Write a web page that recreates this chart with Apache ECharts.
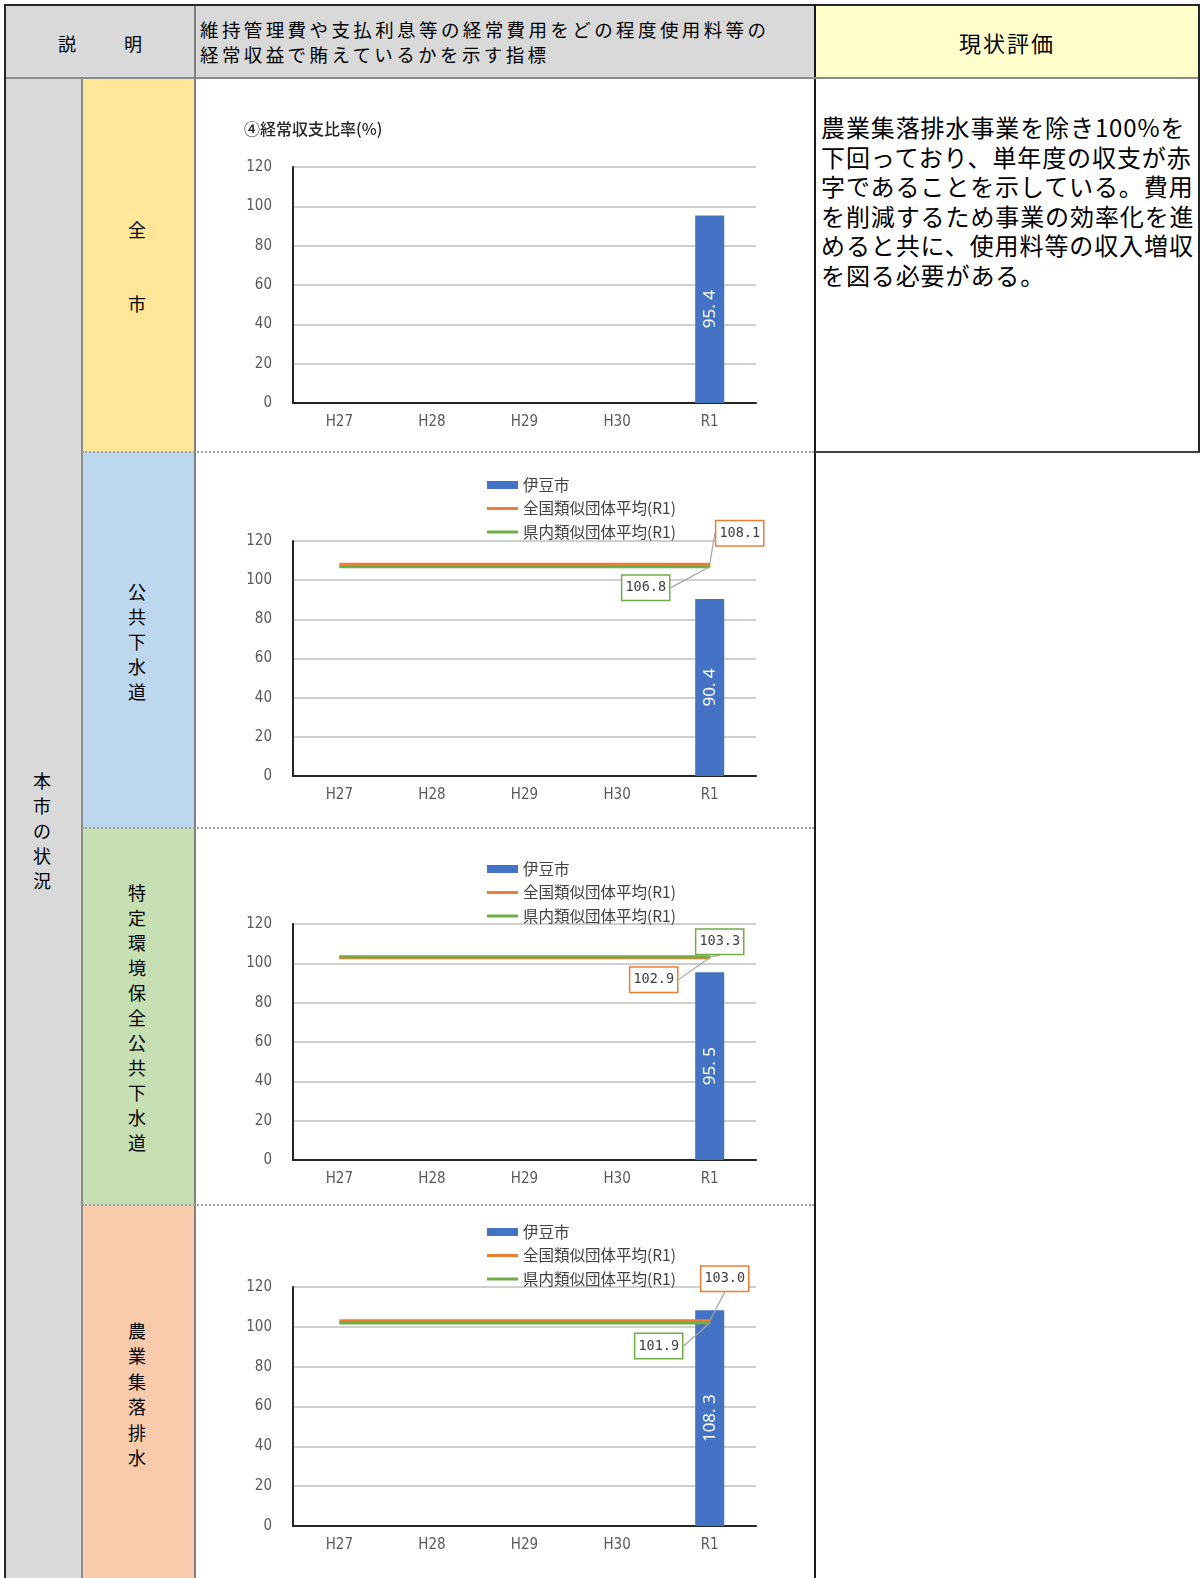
<!DOCTYPE html>
<html lang="ja">
<head>
<meta charset="utf-8">
<title>経常収支比率</title>
<script src="https://cdn.jsdelivr.net/npm/echarts@6/dist/echarts.min.js"></script>
<style>
  html, body { margin: 0; padding: 0; background: #fff; }
  body { width: 1202px; height: 1578px; position: relative; overflow: hidden;
         font-family: "Noto Sans CJK JP", "Noto Sans", sans-serif; color: #000; }
  .box { position: absolute; box-sizing: border-box; }
  .line { position: absolute; z-index: 5; }
  .chart { position: absolute; left: 195px; width: 620px; z-index: 1; }
  .vtext { position: absolute; width: 40px; text-align: center; font-size: 18px; line-height: 25px; z-index: 3; }
</style>
</head>
<body>

<!-- cell backgrounds -->
<div class="box" style="left:5px;top:5px;width:190px;height:73px;background:#d9d9d9"></div>
<div class="box" style="left:195px;top:5px;width:620px;height:73px;background:#d9d9d9"></div>
<div class="box" style="left:815px;top:5px;width:384px;height:73px;background:#ffffcc"></div>
<div class="box" style="left:5px;top:78px;width:77px;height:1500px;background:#d9d9d9"></div>
<div class="box" style="left:82px;top:78px;width:113px;height:374px;background:#ffe699"></div>
<div class="box" style="left:82px;top:452px;width:113px;height:376px;background:#bdd7ee"></div>
<div class="box" style="left:82px;top:828px;width:113px;height:377px;background:#c6e0b4"></div>
<div class="box" style="left:82px;top:1205px;width:113px;height:373px;background:#f8cbad"></div>

<!-- grid lines of the table -->
<div class="line" style="left:4px;top:4px;width:1196px;height:2px;background:#262626"></div>
<div class="line" style="left:4px;top:4px;width:2px;height:1574px;background:#262626"></div>
<div class="line" style="left:1198px;top:4px;width:2px;height:449px;background:#262626"></div>
<div class="line" style="left:814px;top:4px;width:2px;height:1574px;background:#1a1a1a"></div>
<div class="line" style="left:6px;top:77px;width:1192px;height:2px;background:#8c8c8c"></div>
<div class="line" style="left:81px;top:78px;width:1.5px;height:1500px;background:#8c8c8c"></div>
<div class="line" style="left:194px;top:6px;width:2px;height:1572px;background:#7f7f7f"></div>
<div class="line" style="left:82px;top:451px;width:732px;height:0;border-top:2px dotted #a0a0a0"></div>
<div class="line" style="left:82px;top:827px;width:732px;height:0;border-top:2px dotted #a0a0a0"></div>
<div class="line" style="left:82px;top:1204px;width:732px;height:0;border-top:2px dotted #a0a0a0"></div>
<div class="line" style="left:815px;top:451px;width:385px;height:2px;background:#404040"></div>

<!-- header texts -->
<div class="box" style="left:57px;top:31px;width:20px;font-size:18px;line-height:24px;text-align:center">説</div>
<div class="box" style="left:123px;top:31px;width:20px;font-size:18px;line-height:24px;text-align:center">明</div>
<div class="box" style="left:200px;top:17px;font-size:18.5px;line-height:25px;letter-spacing:3.4px;white-space:pre;z-index:3">維持管理費や支払利息等の経常費用をどの程度使用料等の
経常収益で賄えているかを示す指標</div>
<div class="box" style="left:815px;top:26px;width:384px;text-align:center;font-size:22px;line-height:32px;letter-spacing:2px">現状評価</div>

<!-- evaluation text -->
<div class="box" style="left:821px;top:112px;font-size:24px;line-height:29.6px;letter-spacing:0.9px;white-space:pre;z-index:3">農業集落排水事業を除き100%を
下回っており、単年度の収支が赤
字であることを示している。費用
を削減するため事業の効率化を進
めると共に、使用料等の収入増収
を図る必要がある。</div>

<!-- row headings -->
<div class="vtext" style="left:22px;top:767.5px">本<br>市<br>の<br>状<br>況</div>
<div class="vtext" style="left:117px;top:193px;line-height:73.5px">全<br>市</div>
<div class="vtext" style="left:117px;top:578.5px">公<br>共<br>下<br>水<br>道</div>
<div class="vtext" style="left:117px;top:879.5px">特<br>定<br>環<br>境<br>保<br>全<br>公<br>共<br>下<br>水<br>道</div>
<div class="vtext" style="left:117px;top:1318px;line-height:25.4px">農<br>業<br>集<br>落<br>排<br>水</div>

<!-- chart areas -->
<div id="c1" class="chart" style="top:78px;height:374px"></div>
<div id="c2" class="chart" style="top:452px;height:376px"></div>
<div id="c3" class="chart" style="top:828px;height:377px"></div>
<div id="c4" class="chart" style="top:1205px;height:373px"></div>

<script>
// fiscal years on the category axis
const years = ['H27', 'H28', 'H29', 'H30', 'R1'];

// 経常収支比率 (%) by business
const cityAll = [null, null, null, null, 95.4];

const publicSewer = [null, null, null, null, 90.4];
const publicSewerNational = [108.1, 108.1, 108.1, 108.1, 108.1];
const publicSewerPref = [106.8, 106.8, 106.8, 106.8, 106.8];

const specialEnv = [null, null, null, null, 95.5];
const specialEnvNational = [102.9, 102.9, 102.9, 102.9, 102.9];
const specialEnvPref = [103.3, 103.3, 103.3, 103.3, 103.3];

const rural = [null, null, null, null, 108.3];
const ruralNational = [103.0, 103.0, 103.0, 103.0, 103.0];
const ruralPref = [101.9, 101.9, 101.9, 101.9, 101.9];

// value axis range
const yMin = 0, yMax = 120, yStep = 20;

const BLUE = '#4472c4', ORANGE = '#ed7d31', GREEN = '#70ad47';
const NARROW = '"Liberation Sans Narrow", "DejaVu Sans Condensed", "Roboto", sans-serif';
const CJK = '"Noto Sans CJK JP", "Noto Sans", sans-serif';
// legend key for the average lines: a 3px band centred in a 31x8 box
const LINE_KEY = 'path://M0,0L0,0M0,2.5L31,2.5L31,5.5L0,5.5ZM31,8L31,8';

function avgSeries(name, values, color, offset) {
  const last = values.length - 1;
  return {
    name: name,
    type: 'line',
    symbol: 'none',
    lineStyle: { color: color, width: 3 },
    itemStyle: { color: color },
    z: 3,
    data: values.map((v, i) => i === last
      ? { value: v, symbol: 'circle', symbolSize: 2, label: { show: true } }
      : v),
    label: {
      show: false,
      position: 'inside',
      formatter: p => p.value.toFixed(1),
      fontFamily: '"DejaVu Sans Mono", "Liberation Mono", monospace',
      fontSize: 13.5,
      lineHeight: 15,
      color: '#404040',
      backgroundColor: '#fff',
      borderColor: color,
      borderWidth: 1.5,
      padding: [5, 3, 4, 3]
    },
    labelLayout: { dx: offset[0], dy: offset[1] },
    labelLine: { show: true, lineStyle: { color: '#a6a6a6', width: 1.2 } }
  };
}

function buildOption(cfg) {
  const series = [{
    name: '伊豆市',
    type: 'bar',
    data: cfg.bar,
    barWidth: 29,
    itemStyle: { color: BLUE },
    z: 2,
    label: {
      show: true,
      position: 'inside',
      rotate: 90,
      color: '#fff',
      fontSize: 17,
      fontFamily: '"Noto Sans", sans-serif',
      formatter: p => p.value.toFixed(1).replace('.', '. ')
    }
  }];
  if (cfg.national) {
    series.push(avgSeries('全国類似団体平均(R1)', cfg.national, ORANGE, cfg.nationalOffset));
    series.push(avgSeries('県内類似団体平均(R1)', cfg.pref, GREEN, cfg.prefOffset));
  }
  const option = {
    animation: false,
    backgroundColor: 'transparent',
    grid: { left: 98, right: 59, top: cfg.top, bottom: cfg.bottom, containLabel: false, outerBoundsMode: 'none' },
    xAxis: {
      type: 'category',
      data: years,
      boundaryGap: true,
      axisLine: { show: true, lineStyle: { color: '#262626', width: 2 } },
      axisTick: { show: false },
      axisLabel: { color: '#595959', fontSize: 15, fontFamily: NARROW, margin: 12 }
    },
    yAxis: {
      type: 'value',
      min: yMin, max: yMax, interval: yStep,
      axisLine: { show: true, lineStyle: { color: '#262626', width: 2 } },
      axisTick: { show: false },
      axisLabel: { color: '#595959', fontSize: 15, fontFamily: NARROW, margin: 21 },
      splitLine: { show: true, lineStyle: { color: '#bfbfbf', width: 1.5 } }
    },
    series: series
  };
  if (cfg.title) {
    option.title = {
      text: cfg.title, left: 44, top: 38,
      textStyle: { fontFamily: CJK, fontSize: 16, fontWeight: 500, color: '#262626' }
    };
  }
  if (cfg.national) {
    option.legend = {
      orient: 'vertical',
      left: 287,
      top: cfg.legendTop,
      itemWidth: 31,
      itemHeight: 8,
      itemGap: 6.5,
      textStyle: { fontFamily: CJK, fontSize: 15.5, color: '#404040', lineHeight: 17 },
      data: [
        { name: '伊豆市', icon: 'rect' },
        { name: '全国類似団体平均(R1)', icon: LINE_KEY },
        { name: '県内類似団体平均(R1)', icon: LINE_KEY }
      ]
    };
  }
  return option;
}

const charts = [
  { id: 'c1', bar: cityAll, top: 89, bottom: 49, title: '④経常収支比率(%)' },
  { id: 'c2', bar: publicSewer, national: publicSewerNational, pref: publicSewerPref,
    nationalOffset: [30, -31], prefOffset: [-64, 21], top: 89, bottom: 52, legendTop: 19.5 },
  { id: 'c3', bar: specialEnv, national: specialEnvNational, pref: specialEnvPref,
    nationalOffset: [-56, 22], prefOffset: [10, -15], top: 96, bottom: 45, legendTop: 27.5 },
  { id: 'c4', bar: rural, national: ruralNational, pref: ruralPref,
    nationalOffset: [15, -42], prefOffset: [-51, 23], top: 82, bottom: 52, legendTop: 13.5 }
];

charts.forEach(cfg => {
  const chart = echarts.init(document.getElementById(cfg.id), null, { renderer: 'canvas' });
  chart.setOption(buildOption(cfg));
});
</script>
</body>
</html>
